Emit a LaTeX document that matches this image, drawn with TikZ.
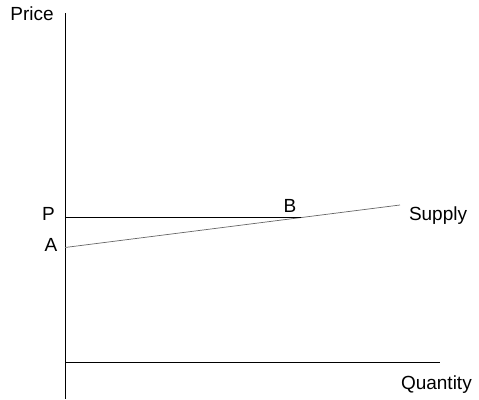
\documentclass[tikz,border=0pt]{standalone}
\usepackage{fontspec}
\setmainfont{Liberation Sans}
\begin{document}
\begin{tikzpicture}[x=1pt,y=-1pt,
  lbl/.style={inner sep=0pt,outer sep=0pt,font=\fontsize{19}{21}\selectfont},
  axis/.style={draw=black,line width=1pt},
  pline/.style={draw=black,line width=1pt},
  supply/.style={draw=black!60,line width=0.7pt}]
\useasboundingbox (0,0) rectangle (479,399);
% axes
\coordinate (ytop) at (65,13);
\coordinate (ybot) at (65,399);
\coordinate (origin) at (65,362);
\coordinate (xend) at (440,362);
\draw[axis] (ytop) -- (ybot);
\draw[axis] (origin) -- (xend);
% supply line
\coordinate (sA) at (65,247.5);
\coordinate (sEnd) at (400,205);
\draw[supply] (sA) -- (sEnd);
% price line
\coordinate (pP) at (65,217.5);
\coordinate (pB) at (301,217.5);
\draw[pline] (pP) -- (pB);
% labels
\node[lbl,anchor=base] (price) at (32,20) {Price};
\node[lbl,anchor=base] (P) at (48.5,220.5) {P};
\node[lbl,anchor=base] (A) at (51,251) {A};
\node[lbl,anchor=base] (B) at (290,212.5) {B};
\node[lbl,anchor=base west] (supplylbl) at (409,220) {Supply};
\node[lbl,anchor=base west] (qty) at (401,389) {Quantity};
\end{tikzpicture}
\end{document}
